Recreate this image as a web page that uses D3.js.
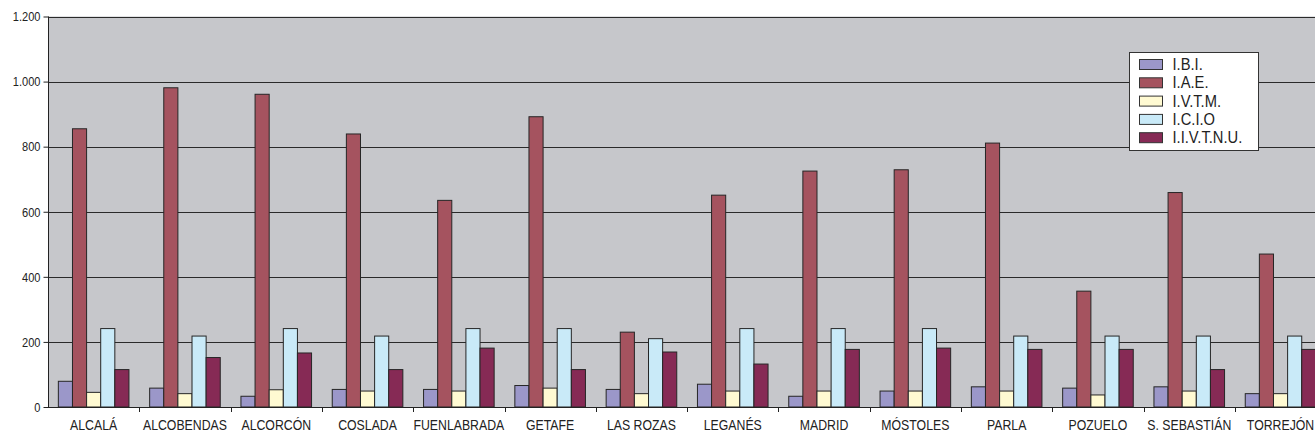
<!DOCTYPE html>
<html>
<head>
<meta charset="utf-8">
<script src="https://cdn.jsdelivr.net/npm/d3@7"></script>
<style>
  body { margin: 0; background: #fff; }
  svg { display: block; }
  text { font-family: "Liberation Sans", Arial, sans-serif; fill: #222; }
</style>
</head>
<body>
<div id="chart"></div>
<script>
// data
var municipios = ["ALCALÁ", "ALCOBENDAS", "ALCORCÓN", "COSLADA", "FUENLABRADA", "GETAFE", "LAS ROZAS",
                  "LEGANÉS", "MADRID", "MÓSTOLES", "PARLA", "POZUELO", "S. SEBASTIÁN", "TORREJÓN"];
var impuestos = ["I.B.I.", "I.A.E.", "I.V.T.M.", "I.C.I.O", "I.I.V.T.N.U."];
var colores = ["#9b97c9", "#a5535f", "#fffad2", "#c9eaf8", "#862a55"];

var ibi    = [79, 58, 33, 54, 54, 66, 54, 70, 33, 49, 62, 58, 62, 41];
var iae    = [855, 981, 961, 839, 635, 892, 230, 651, 725, 729, 811, 356, 659, 470];
var ivtm   = [45, 41, 53, 49, 49, 58, 41, 49, 49, 49, 49, 37, 49, 41];
var icio   = [241, 218, 241, 218, 241, 241, 210, 241, 241, 241, 218, 218, 218, 218];
var iivtnu = [115, 152, 166, 115, 181, 115, 169, 132, 177, 181, 177, 177, 115, 177];
var series = [ibi, iae, ivtm, icio, iivtnu];

var yTicks = [0, 200, 400, 600, 800, 1000, 1200];
var yTickLabels = ["0", "200", "400", "600", "800", "1.000", "1.200"];

// 1: dimensions
var W = 1315, H = 443;
var mLeft = 48, mTop = 16.5, mBottom = 407;
var bandW = 91.3;
var narrow = 0.82;  // condensed look of the original font

var svg = d3.select("#chart").append("svg")
    .attr("width", W)
    .attr("height", H);

// 2: scales
var x0 = d3.scaleBand()
    .domain(municipios)
    .range([mLeft, mLeft + bandW * municipios.length])
    .padding(0);
var x1 = d3.scaleBand()
    .domain(impuestos)
    .range([0, x0.bandwidth()])
    .paddingInner(0)
    .paddingOuter(0.733);
var y = d3.scaleLinear()
    .domain([0, 1200])
    .range([mBottom, mTop]);

// plot area
svg.append("rect")
    .attr("x", mLeft)
    .attr("y", mTop)
    .attr("width", W - mLeft + 20)
    .attr("height", mBottom - mTop)
    .style("fill", "#c6c7cb");

// grid lines
svg.selectAll("line.grid")
    .data(yTicks.slice(1))
  .enter().append("line")
    .attr("class", "grid")
    .attr("x1", mLeft)
    .attr("x2", W)
    .attr("y1", function(d) { return Math.round(y(d)) + 0.5; })
    .attr("y2", function(d) { return Math.round(y(d)) + 0.5; })
    .style("stroke", "#2a2a2a")
    .style("stroke-width", 1);

// 3: bars
var groups = svg.selectAll("g.grupo")
    .data(municipios)
  .enter().append("g")
    .attr("class", "grupo")
    .attr("transform", function(d) { return "translate(" + x0(d) + ",0)"; });

groups.selectAll("rect")
    .data(function(d, i) {
      return impuestos.map(function(k, j) { return {key: k, value: series[j][i], color: colores[j]}; });
    })
  .enter().append("rect")
    .attr("x", function(d) { return x1(d.key); })
    .attr("y", function(d) { return y(d.value); })
    .attr("width", x1.bandwidth())
    .attr("height", function(d) { return mBottom - y(d.value); })
    .style("fill", function(d) { return d.color; })
    .style("stroke", "#262626")
    .style("stroke-width", 1);

// 4: axes
var yAxis = d3.axisLeft(y)
    .tickValues(yTicks)
    .tickFormat(function(d, i) { return yTickLabels[i]; })
    .tickSize(5)
    .tickPadding(3);
var yGroup = svg.append("g")
    .attr("class", "axis axis--y")
    .attr("transform", "translate(" + (mLeft + 0.5) + ",0)")
    .call(yAxis);
yGroup.select(".domain").remove();
yGroup.append("line")
    .attr("x1", 0).attr("x2", 0)
    .attr("y1", mTop).attr("y2", mBottom)
    .style("stroke", "#222");
yGroup.selectAll("line").style("stroke", "#222");
yGroup.selectAll(".tick text")
    .attr("x", null)
    .attr("transform", "translate(-8,0) scale(" + narrow + ",1)")
    .style("font-size", "13.5px")
    .style("font-family", "\"Liberation Sans\", Arial, sans-serif")
    .style("fill", "#222");

// x axis baseline + band ticks
svg.append("line")
    .attr("x1", mLeft).attr("x2", W)
    .attr("y1", mBottom + 0.5).attr("y2", mBottom + 0.5)
    .style("stroke", "#222");
svg.selectAll("line.xtick")
    .data(municipios)
  .enter().append("line")
    .attr("class", "xtick")
    .attr("x1", function(d) { return Math.round(x0(d) + bandW) + 0.5; })
    .attr("x2", function(d) { return Math.round(x0(d) + bandW) + 0.5; })
    .attr("y1", mBottom)
    .attr("y2", mBottom + 5)
    .style("stroke", "#222");
svg.selectAll("text.xlabel")
    .data(municipios)
  .enter().append("text")
    .attr("class", "xlabel")
    .attr("transform", function(d) {
      return "translate(" + (x0(d) + bandW / 2) + ",430) scale(" + narrow + ",1)";
    })
    .attr("text-anchor", "middle")
    .style("font-size", "15px")
    .text(function(d) { return d; });

// 5: legend
var lg = svg.append("g").attr("transform", "translate(1129.5,52.5)");
lg.append("rect")
    .attr("width", 129)
    .attr("height", 98)
    .style("fill", "#fff")
    .style("stroke", "#333");
var items = lg.selectAll("g.item")
    .data(impuestos)
  .enter().append("g")
    .attr("class", "item")
    .attr("transform", function(d, i) { return "translate(10," + (7 + i * 18.3) + ")"; });
items.append("rect")
    .attr("width", 23)
    .attr("height", 10)
    .style("fill", function(d, i) { return colores[i]; })
    .style("stroke", "#333");
items.append("text")
    .attr("transform", "translate(33,10.5) scale(0.92,1)")
    .style("font-size", "16px")
    .text(function(d) { return d; });
</script>
</body>
</html>
